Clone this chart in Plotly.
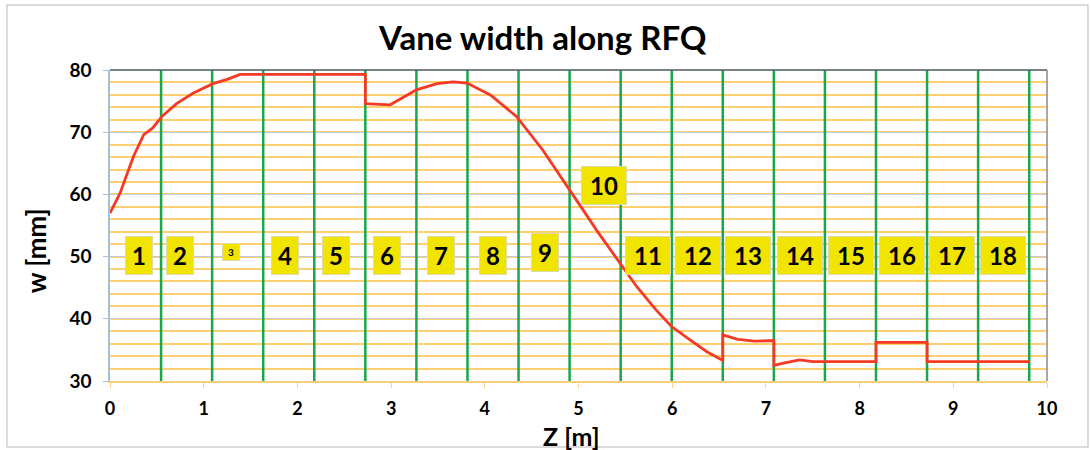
import plotly.graph_objects as go

# ---- data ----
z_m = [0.00, 0.107, 0.25, 0.36, 0.45, 0.56, 0.71, 0.89, 1.10, 1.25, 1.39, 2.725,
       2.725, 2.99, 3.27, 3.49, 3.66, 3.81, 4.06, 4.34, 4.62, 4.91, 5.12, 5.19,
       5.44, 5.62, 5.83, 5.99, 6.19, 6.37, 6.54,
       6.54, 6.70, 6.88, 7.085,
       7.085, 7.20, 7.36, 7.50, 8.175,
       8.175, 8.72,
       8.72, 9.81]
w_mm = [57.0, 60.2, 66.1, 69.6, 70.6, 72.6, 74.6, 76.3, 77.8, 78.5, 79.3, 79.3,
        74.6, 74.4, 76.8, 77.8, 78.1, 77.9, 76.0, 72.5, 67.1, 60.7, 55.9, 54.3,
        48.9, 45.2, 41.4, 38.8, 36.6, 34.7, 33.3,
        37.4, 36.7, 36.4, 36.5,
        32.5, 32.9, 33.4, 33.1, 33.1,
        36.2, 36.2,
        33.1, 33.1]

n_sections = 18
rfq_length = 9.81
section_edges = [rfq_length * i / n_sections for i in range(1, n_sections + 1)]

label_text = [str(i) for i in range(1, 19)]
label_z = [0.31, 0.75, 1.29, 1.87, 2.41, 2.96, 3.53, 4.09, 4.64, 5.27,
           5.74, 6.28, 6.81, 7.36, 7.91, 8.45, 8.99, 9.53]
label_w = [50.2, 50.1, 50.7, 50.2, 50.2, 50.1, 50.2, 50.1, 50.6, 61.5,
           50.1, 50.2, 50.1, 50.2, 50.1, 50.2, 50.1, 50.2]

x_ticks = list(range(0, 11))
y_ticks = [30, 40, 50, 60, 70, 80]

FONT = "Lato"

fig = go.Figure()

# green section boundaries
gx, gy = [], []
for e in section_edges:
    gx += [e, e, None]
    gy += [30, 80, None]
fig.add_trace(go.Scatter(x=gx, y=gy, mode="lines",
                         line=dict(color="#1aa64a", width=2.5),
                         hoverinfo="skip", showlegend=False))

# vane width curve
fig.add_trace(go.Scatter(x=z_m, y=w_mm, mode="lines",
                         line=dict(color="#f53a23", width=2.8),
                         showlegend=False))

annotations = []
for t, zx, wy in zip(label_text, label_z, label_w):
    small = (t == "3")
    two = len(t) == 2
    annotations.append(dict(
        x=zx, y=wy, xref="x", yref="y", text=t, showarrow=False,
        font=dict(family=FONT, size=10 if small else 24, color="black", weight="bold"),
        bgcolor="#f0e400", bordercolor="#dcdca8", borderwidth=1,
        borderpad=1 if small else 2,
        width=14 if small else (40 if two else 22),
        height=14 if small else 33,
    ))

# axis titles
annotations.append(dict(
    x=-0.079, y=0.42, xref="paper", yref="paper", text="w [mm]",
    showarrow=False, textangle=-90, xanchor="center", yanchor="middle",
    font=dict(family=FONT, size=26, color="black", weight="bold")))
annotations.append(dict(
    x=0.492, y=-0.178, xref="paper", yref="paper", text="Z [m]",
    showarrow=False, xanchor="center", yanchor="middle",
    font=dict(family=FONT, size=25, color="black", weight="bold")))

fig.update_layout(
    width=1091, height=450,
    margin=dict(l=110, r=44, t=70, b=69),
    paper_bgcolor="white", plot_bgcolor="white",
    title=dict(text="Vane width along RFQ", x=0.4975, xanchor="center",
               y=0.915, yanchor="middle",
               font=dict(family=FONT, size=33, color="black", weight="bold")),
    annotations=annotations,
    xaxis=dict(range=[0, 10], tickvals=x_ticks, showgrid=False, zeroline=False,
               automargin=False,
               showline=True, linecolor="#f3cf7a", linewidth=1.5,
               ticks="outside", ticklen=5, tickcolor="#f3d88e",
               ticklabelstandoff=6,
               tickfont=dict(family=FONT, size=18, color="black", weight="bold")),
    yaxis=dict(range=[30, 80], tickvals=y_ticks, zeroline=False,
               automargin=False,
               showgrid=True, gridcolor="#bfcbd6", gridwidth=1,
               minor=dict(dtick=2, tick0=30, showgrid=True, gridcolor="#ffcf70",
                          gridwidth=2, ticks=""),
               showline=True, linecolor="#9fc2e0", linewidth=1.5,
               ticks="outside", ticklen=5, tickcolor="#9fc2e0",
               ticklabelstandoff=8,
               tickfont=dict(family=FONT, size=19, color="black", weight="bold")),
    shapes=[
        dict(type="line", xref="x domain", yref="y domain", x0=0, x1=1, y0=1, y1=1,
             line=dict(color="#4d5a55", width=1.5)),
        dict(type="line", xref="x domain", yref="y domain", x0=1, x1=1, y0=0, y1=1,
             line=dict(color="#8a8a8a", width=1.5)),
        dict(type="rect", xref="paper", yref="paper", x0=-0.11, x1=1.0437,
             y0=-0.212, y1=1.209, line=dict(color="#d0d0d0", width=1.5),
             fillcolor="rgba(0,0,0,0)"),
    ],
)

fig.write_html("out.html")
